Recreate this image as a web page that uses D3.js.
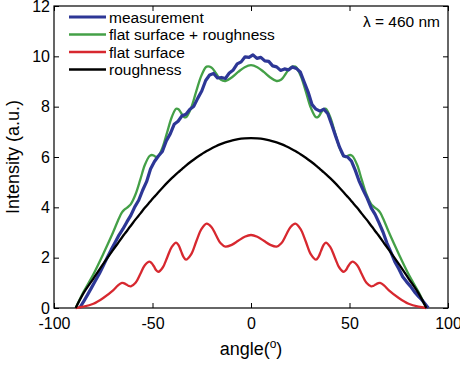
<!DOCTYPE html>
<html>
<head>
<meta charset="utf-8">
<script src="https://cdn.jsdelivr.net/npm/d3@7"></script>
<style>
  body { margin: 0; background: #fff; }
  text { font-family: "Liberation Sans", Arial, sans-serif; }
</style>
</head>
<body>
<div class="chart"></div>
<script>
// model curves share one angle grid
const angles_model = [-89, -85, -80, -75, -70, -67.5, -65.5, -64.4, -63.2, -62.1, -61, -58.6, -56.2, -53.9, -51.5, -50.4, -49.2, -48.1, -47, -44.8,
  -42.5, -40.2, -38, -36.8, -35.5, -34.2, -33, -30.4, -27.8, -25.1, -22.5, -20.1, -17.8, -15.4, -13, -9.8, -6.5, -3.2, 0,
  3.2, 6.5, 9.8, 13, 15.4, 17.8, 20.1, 22.5, 25.1, 27.8, 30.4, 33, 34.2, 35.5, 36.8, 38, 40.2, 42.5, 44.8,
  47, 48.1, 49.2, 50.4, 51.5, 53.9, 56.2, 58.6, 61, 62.1, 63.2, 64.4, 65.5, 67.5, 70, 75, 80, 85, 89]

const flat_surface = [0, 0.05, 0.17, 0.4, 0.7, 0.9, 1.0, 0.98, 0.93, 0.88, 0.86, 1.0, 1.35, 1.70, 1.84, 1.78, 1.64, 1.50, 1.44, 1.61,
  2.02, 2.43, 2.6, 2.5, 2.26, 2.02, 1.92, 2.13, 2.64, 3.14, 3.35, 3.22, 2.9, 2.57, 2.44, 2.51, 2.67, 2.83, 2.9,
  2.83, 2.67, 2.51, 2.44, 2.57, 2.9, 3.22, 3.35, 3.14, 2.64, 2.13, 1.92, 2.02, 2.26, 2.5, 2.6, 2.43, 2.02, 1.61,
  1.44, 1.50, 1.64, 1.78, 1.84, 1.70, 1.35, 1.0, 0.86, 0.88, 0.93, 0.98, 1.0, 0.9, 0.7, 0.4, 0.17, 0.05, 0]

const roughness = [0, 0.59, 1.17, 1.75, 2.31, 2.58, 2.80, 2.92, 3.04, 3.16, 3.27, 3.52, 3.75, 3.98, 4.20, 4.30, 4.41, 4.50, 4.60, 4.79,
  4.98, 5.16, 5.32, 5.40, 5.49, 5.58, 5.66, 5.82, 5.97, 6.11, 6.24, 6.34, 6.43, 6.51, 6.58, 6.65, 6.71, 6.74, 6.75,
  6.74, 6.71, 6.65, 6.58, 6.51, 6.43, 6.34, 6.24, 6.11, 5.97, 5.82, 5.66, 5.58, 5.49, 5.40, 5.32, 5.16, 4.98, 4.79,
  4.60, 4.50, 4.41, 4.30, 4.20, 3.98, 3.75, 3.52, 3.27, 3.16, 3.04, 2.92, 2.80, 2.58, 2.31, 1.75, 1.17, 0.59, 0]

const flat_rough = [0, 0.64, 1.34, 2.15, 3.01, 3.48, 3.80, 3.90, 3.97, 4.04, 4.13, 4.52, 5.10, 5.68, 6.04, 6.08, 6.05, 6.00, 6.04, 6.40,
  7.00, 7.59, 7.92, 7.90, 7.75, 7.60, 7.58, 7.95, 8.61, 9.25, 9.59, 9.56, 9.33, 9.08, 9.02, 9.16, 9.38, 9.57, 9.65,
  9.57, 9.38, 9.16, 9.02, 9.08, 9.33, 9.56, 9.59, 9.25, 8.61, 7.95, 7.58, 7.60, 7.75, 7.90, 7.92, 7.59, 7.00, 6.40,
  6.04, 6.00, 6.05, 6.08, 6.04, 5.68, 5.10, 4.52, 4.13, 4.04, 3.97, 3.90, 3.80, 3.48, 3.01, 2.15, 1.34, 0.64, 0]

// measured curve
const angles_meas = [-87, -85, -83, -81, -79, -77, -75, -73, -71, -69, -67, -65, -63, -61, -59, -57, -55, -53, -51, -49, -47, -45, -43, -41,
  -39, -37, -35, -33, -31, -29, -27, -25, -23, -21, -19, -17, -15, -13, -11, -9, -7, -5, -3, -1,
  1, 3, 5, 7, 9, 11, 13, 15, 17, 19, 21, 23, 25, 27, 29, 31, 33, 35, 37, 39, 41, 43, 45, 47, 49,
  51, 53, 55, 57, 59, 61, 63, 65, 67, 69, 71, 73, 75, 77, 79, 81, 83, 85, 87, 89, 90]

const measurement = [0.00, 0.25, 0.52, 0.80, 1.08, 1.36, 1.68, 2.00, 2.31, 2.60, 2.90, 3.14, 3.42, 3.68, 4.02, 4.28, 4.68, 5.02, 5.52, 5.82, 6.04, 6.22, 6.64, 6.92,
  7.30, 7.42, 7.64, 7.70, 7.90, 8.02, 8.34, 8.62, 9.04, 9.26, 9.32, 9.14, 9.16, 9.12, 9.34, 9.46, 9.70, 9.78, 9.98, 9.96,
  10.06, 9.92, 9.96, 9.82, 9.80, 9.62, 9.58, 9.44, 9.50, 9.46, 9.58, 9.52, 9.38, 8.98, 8.58, 8.08, 7.90, 7.82, 7.90, 7.72, 7.28, 6.82, 6.38, 6.04, 6.00,
  5.84, 5.46, 5.02, 4.68, 4.36, 3.98, 3.72, 3.38, 3.02, 2.58, 2.22, 1.84, 1.56, 1.24, 1.04, 0.86, 0.64, 0.46, 0.30, 0.10, 0.00]

const x_ticks = [-100, -50, 0, 50, 100]
const y_ticks = [0, 2, 4, 6, 8, 10, 12]

const legend_names = ["measurement", "flat surface + roughness", "flat surface", "roughness"]
const colors = {meas: "#2d3796", flatRough: "#44a047", flat: "#d7282f", rough: "#000000"}
const legend_colors = [colors.meas, colors.flatRough, colors.flat, colors.rough]

const width = 460
const height = 366
const box = {left: 54, right: 448, top: 6, bottom: 308}

const svg = d3.select(".chart").append("svg")
  .attr("width", width)
  .attr("height", height)

const x = d3.scaleLinear().domain([-100, 100]).range([box.left, box.right])
const y = d3.scaleLinear().domain([0, 12]).range([box.bottom, box.top])

// axes, ticks pointing inward on all four sides
const fmt = d => d
svg.append("g")
  .attr("transform", `translate(0,${box.bottom})`)
  .call(d3.axisBottom(x).tickValues(x_ticks).tickFormat(fmt).tickSize(-5).tickPadding(10))
svg.append("g")
  .attr("transform", `translate(0,${box.top})`)
  .call(d3.axisTop(x).tickValues(x_ticks).tickFormat("").tickSize(-5))
svg.append("g")
  .attr("transform", `translate(${box.left},0)`)
  .call(d3.axisLeft(y).tickValues(y_ticks).tickFormat(fmt).tickSize(-5).tickPadding(4))
svg.append("g")
  .attr("transform", `translate(${box.right},0)`)
  .call(d3.axisRight(y).tickValues(y_ticks).tickFormat("").tickSize(-5))

svg.selectAll(".domain").remove()
svg.selectAll(".tick line").attr("stroke", "#000").attr("stroke-width", 1)
svg.selectAll(".tick text")
  .attr("fill", "#000")
  .attr("font-size", "16px")
  .attr("font-family", "Liberation Sans, Arial, sans-serif")

svg.append("rect")
  .attr("x", box.left).attr("y", box.top)
  .attr("width", box.right - box.left).attr("height", box.bottom - box.top)
  .attr("fill", "none")
  .attr("stroke", "#000")
  .attr("stroke-width", 1.2)

const smooth = d3.line()
  .x(d => x(d[0]))
  .y(d => y(d[1]))
  .curve(d3.curveCatmullRom.alpha(0.5))

const jagged = d3.line()
  .x(d => x(d[0]))
  .y(d => y(d[1]))

const plot = svg.append("g")

plot.append("path")
  .datum(angles_model.map((a, i) => [a, flat_rough[i]]))
  .attr("d", smooth)
  .attr("fill", "none")
  .attr("stroke", colors.flatRough)
  .attr("stroke-width", 2.3)

plot.append("path")
  .datum(angles_meas.map((a, i) => [a, measurement[i]]))
  .attr("d", jagged)
  .attr("fill", "none")
  .attr("stroke", colors.meas)
  .attr("stroke-width", 3.2)
  .attr("stroke-linejoin", "round")

plot.append("path")
  .datum(angles_model.map((a, i) => [a, flat_surface[i]]))
  .attr("d", smooth)
  .attr("fill", "none")
  .attr("stroke", colors.flat)
  .attr("stroke-width", 2.3)

plot.append("path")
  .datum(angles_model.map((a, i) => [a, roughness[i]]))
  .attr("d", smooth)
  .attr("fill", "none")
  .attr("stroke", colors.rough)
  .attr("stroke-width", 2.3)

// legend
const leg = svg.append("g")
legend_names.forEach((name, i) => {
  const ly = 17 + i * 17.5
  leg.append("line")
    .attr("x1", 69).attr("x2", 106)
    .attr("y1", ly).attr("y2", ly)
    .attr("stroke", legend_colors[i])
    .attr("stroke-width", i === 0 ? 3 : 2.3)
  leg.append("text")
    .attr("x", 109).attr("y", ly + 5.5)
    .attr("font-size", "15.5px")
    .attr("fill", "#000")
    .text(name)
})

svg.append("text")
  .attr("x", 440).attr("y", 27)
  .attr("text-anchor", "end")
  .attr("font-size", "15.5px")
  .text("λ = 460 nm")

// axis labels
const xl = svg.append("text")
  .attr("x", (box.left + box.right) / 2).attr("y", 355)
  .attr("text-anchor", "middle")
  .attr("font-size", "18px")
xl.append("tspan").text("angle(")
xl.append("tspan").attr("dy", -7).attr("font-size", "12px").text("o")
xl.append("tspan").attr("dy", 7).text(")")

svg.append("text")
  .attr("transform", `translate(19,${(box.top + box.bottom) / 2}) rotate(-90)`)
  .attr("text-anchor", "middle")
  .attr("font-size", "18px")
  .text("Intensity (a.u.)")
</script>
</body>
</html>
